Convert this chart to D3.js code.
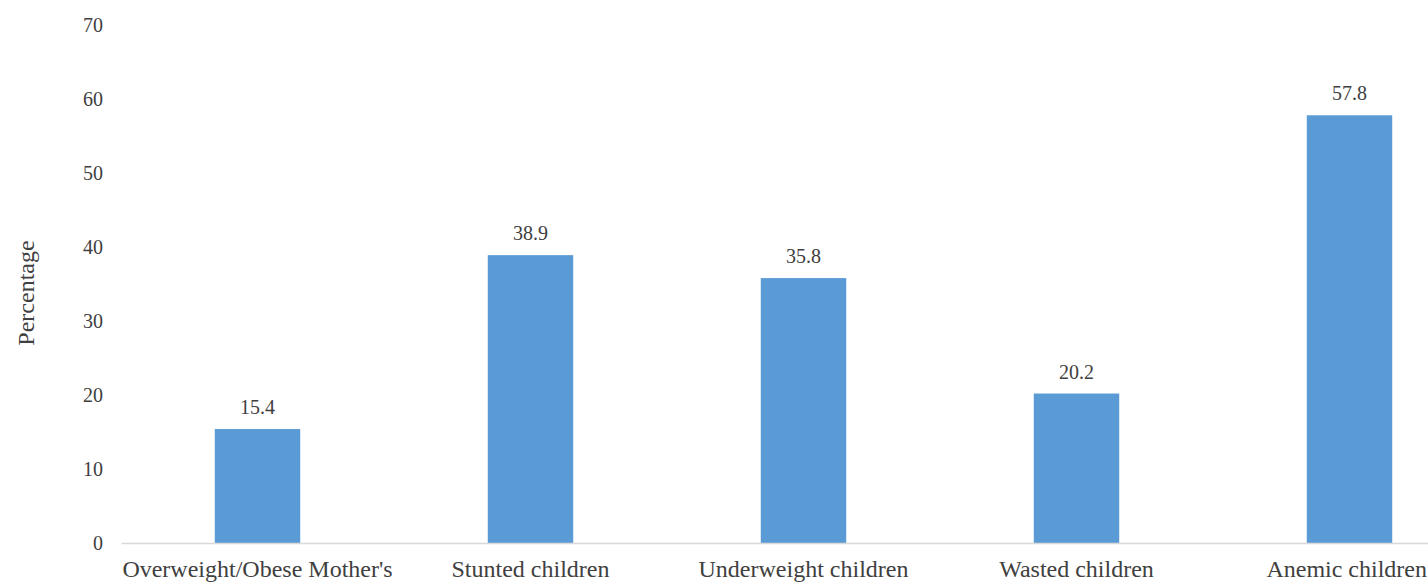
<!DOCTYPE html>
<html>
<head>
<meta charset="utf-8">
<script src="https://cdn.jsdelivr.net/npm/d3@7"></script>
<style>
html,body{margin:0;padding:0;background:#fff;overflow:hidden;}
svg{display:block;font-family:"Liberation Serif","Times New Roman",serif;}
</style>
</head>
<body>
<svg id="chart" width="1428" height="583"></svg>
<script>
const categories = ["Overweight/Obese Mother's","Stunted children","Underweight children","Wasted children","Anemic children"];
const values = [15.4, 38.9, 35.8, 20.2, 57.8];
const yTicks = [0,10,20,30,40,50,60,70];
const yTitle = "Percentage";

const W = 1428;
const svg = d3.select("#chart");
const x0 = 121, x1 = 1486, yTop = 25, yBot = 543;
const FONT = '"Liberation Serif","Times New Roman",serif';
const TXT = "#404040";

const x = d3.scaleBand().domain(categories).range([x0, x1]).paddingInner(0.687).paddingOuter(0.3435);
const y = d3.scaleLinear().domain([0,70]).range([yBot, yTop]);

// y axis labels (no line)
const yAxis = d3.axisLeft(y).tickValues(yTicks).tickSize(0).tickPadding(18);
const gy = svg.append("g").attr("transform", `translate(${x0},0)`).call(yAxis);
gy.select(".domain").remove();
gy.selectAll("text").attr("font-size", 20).attr("fill", TXT).attr("font-family", FONT);

// bars
svg.append("g").selectAll("rect").data(values).join("rect")
  .attr("x", (d,i) => x(categories[i]))
  .attr("width", x.bandwidth())
  .attr("y", d => y(d))
  .attr("height", d => y(0) - y(d))
  .attr("fill", "#5b9bd5");

// x axis
const xAxis = d3.axisBottom(x).tickSize(0);
const gx = svg.append("g").attr("transform", `translate(0,${yBot})`).call(xAxis);
gx.select(".domain").attr("stroke", "#d9d9d9").attr("stroke-width", 1.5);
gx.selectAll("text").attr("font-size", 24).attr("fill", TXT).attr("font-family", FONT)
  .attr("y", 34).attr("dy", 0)
  .each(function() {
    // keep labels inside the picture's right edge
    const b = this.getBoundingClientRect();
    const over = b.right - (W - 1);
    if (over > 0) d3.select(this).attr("x", -over);
  });

// value labels
svg.append("g").selectAll("text").data(values).join("text")
  .attr("x", (d,i) => x(categories[i]) + x.bandwidth()/2)
  .attr("y", d => y(d) - 15)
  .attr("text-anchor", "middle")
  .attr("font-size", 20)
  .attr("fill", TXT)
  .text(d => d.toFixed(1));

// y title
svg.append("text")
  .attr("transform", `translate(34,293) rotate(-90)`)
  .attr("text-anchor", "middle")
  .attr("font-size", 24)
  .attr("fill", TXT)
  .text(yTitle);
</script>
</body>
</html>
